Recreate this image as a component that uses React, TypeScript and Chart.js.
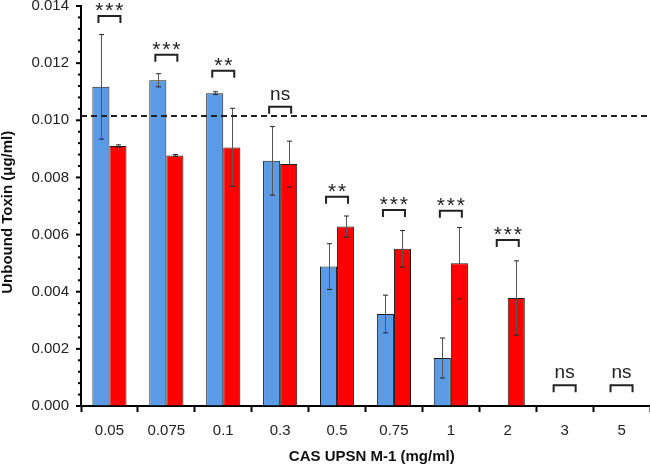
import React, { useEffect, useRef } from "react";
import { Chart, registerables } from "chart.js";

Chart.register(...registerables);

const categories = ["0.05", "0.075", "0.1", "0.3", "0.5", "0.75", "1", "2", "3", "5"];
const blueValues = [0.01117, 0.0114, 0.01095, 0.00858, 0.00488, 0.00322, 0.00168, 0, 0, 0];
const blueErrors = [0.00183, 0.00023, 0.00005, 0.0012, 0.0008, 0.00066, 0.0007, 0, 0, 0];
const redValues = [0.0091, 0.00877, 0.00905, 0.00847, 0.00628, 0.0055, 0.005, 0.00378, 0, 0];
const redErrors = [0.00004, 0.00003, 0.00137, 0.0008, 0.00037, 0.00064, 0.00125, 0.0013, 0, 0];
const bracketLevels = [0.01365, 0.01229, 0.01173, 0.01047, 0.00732, 0.00686, 0.00683, 0.00581, 0.00073, 0.00073];
const bracketLabels = ["***", "***", "**", "ns", "**", "***", "***", "***", "ns", "ns"];
const controlLevel = 0.01015;
const yMin = 0;
const yMax = 0.014;
const yMinorStep = 0.0004;
const yMajorStep = 0.002;

const FONT = "'Liberation Sans', Arial, Helvetica, sans-serif";

const isMajor = (v: number) => Math.abs(v / yMajorStep - Math.round(v / yMajorStep)) < 1e-6;

const errorBarPlugin = {
  id: "errorBars",
  afterDatasetsDraw(chart: any) {
    const ctx = chart.ctx;
    const y = chart.scales.y;
    const errs = [blueErrors, redErrors];
    ctx.save();
    chart.data.datasets.forEach((ds: any, di: number) => {
      const meta = chart.getDatasetMeta(di);
      meta.data.forEach((bar: any, i: number) => {
        const v = ds.data[i];
        const e = errs[di][i];
        if (!e) return;
        const x = Math.round(bar.x) + 0.5;
        const yt = y.getPixelForValue(v + e);
        const yb = y.getPixelForValue(v - e);
        ctx.strokeStyle = "#555";
        ctx.lineWidth = 1;
        ctx.beginPath();
        ctx.moveTo(x, yt);
        ctx.lineTo(x, yb);
        ctx.stroke();
        ctx.strokeStyle = "#222";
        ctx.beginPath();
        ctx.moveTo(x - 2.5, yt);
        ctx.lineTo(x + 2.5, yt);
        ctx.moveTo(x - 2.5, yb);
        ctx.lineTo(x + 2.5, yb);
        ctx.stroke();
      });
    });
    // control dashed line
    const ca = chart.chartArea;
    const yc = y.getPixelForValue(controlLevel);
    ctx.strokeStyle = "#222";
    ctx.lineWidth = 2;
    ctx.setLineDash([6, 4]);
    ctx.beginPath();
    ctx.moveTo(ca.left, yc);
    ctx.lineTo(ca.right, yc);
    ctx.stroke();
    ctx.setLineDash([]);
    ctx.restore();
  },
  afterDraw(chart: any) {
    const ctx = chart.ctx;
    const x = chart.scales.x;
    const y = chart.scales.y;
    ctx.save();
    // y minor/major ticks
    ctx.strokeStyle = "#000";
    ctx.lineWidth = 2;
    const axisX = chart.chartArea.left;
    y.ticks.forEach((t: any) => {
      const py = y.getPixelForValue(t.value);
      const len = isMajor(t.value) ? 5 : 3;
      ctx.beginPath();
      ctx.moveTo(axisX - len, py);
      ctx.lineTo(axisX, py);
      ctx.stroke();
    });
    // significance brackets
    bracketLabels.forEach((lab, i) => {
      const cx = x.getPixelForValue(i);
      const by = y.getPixelForValue(bracketLevels[i]);
      const hw = 11;
      ctx.strokeStyle = "#222";
      ctx.lineWidth = 2;
      ctx.beginPath();
      ctx.moveTo(cx - hw, by + 7);
      ctx.lineTo(cx - hw, by);
      ctx.lineTo(cx + hw, by);
      ctx.lineTo(cx + hw, by + 7);
      ctx.stroke();
      ctx.fillStyle = "#222";
      ctx.textAlign = "center";
      ctx.textBaseline = "alphabetic";
      if (lab === "ns") {
        ctx.font = `19px ${FONT}`;
        ctx.fillText(lab, cx, by - 7);
      } else {
        ctx.font = `21px ${FONT}`;
        const n = lab.length;
        for (let k = 0; k < n; k++) {
          ctx.fillText("*", cx + (k - (n - 1) / 2) * 10, by + 1);
        }
      }
    });
    ctx.restore();
  },
};

export default function App() {
  const ref = useRef<HTMLCanvasElement | null>(null);
  useEffect(() => {
    if (!ref.current) return;
    const chart = new Chart(ref.current, {
      type: "bar",
      data: {
        labels: categories,
        datasets: [
          {
            data: blueValues,
            backgroundColor: "#5B9BE6",
            borderColor: "#1a1a1a",
            borderWidth: (c: any) => (c.raw ? 1 : 0),
          },
          {
            data: redValues,
            backgroundColor: "#FF0000",
            borderColor: "#1a1a1a",
            borderWidth: (c: any) => (c.raw ? 1 : 0),
          },
        ],
      },
      options: {
        responsive: false,
        animation: false,
        maintainAspectRatio: false,
        layout: { padding: { top: 6, right: 0, left: 0, bottom: 0 } },
        datasets: { bar: { barPercentage: 1, categoryPercentage: 0.6 } },
        plugins: { legend: { display: false }, tooltip: { enabled: false } },
        scales: {
          x: {
            type: "category",
            offset: true,
            grid: {
              offset: true,
              drawOnChartArea: false,
              drawTicks: true,
              tickLength: 6,
              tickWidth: 2,
              tickColor: "#000",
            },
            border: { display: true, color: "#000", width: 2 },
            ticks: { color: "#222", font: { family: FONT, size: 15 }, padding: 10 },
            title: {
              display: true,
              text: "\u00a0\u00a0\u00a0CAS UPSN M-1 (mg/ml)",
              color: "#111",
              font: { family: FONT, size: 15, weight: "bold" },
              padding: { top: 0, bottom: 2 },
            },
            afterFit: (s: any) => {
              s.height = 62;
              s.paddingLeft = 0;
              s.paddingRight = 0;
            },
          },
          y: {
            min: yMin,
            max: yMax,
            grid: { drawOnChartArea: false, drawTicks: false },
            border: { display: true, color: "#000", width: 2 },
            ticks: {
              stepSize: yMinorStep,
              autoSkip: false,
              padding: 12,
              color: "#222",
              font: { family: FONT, size: 15 },
              callback: (v: any) => (isMajor(Number(v)) ? Number(v).toFixed(3) : ""),
            },
            title: {
              display: true,
              text: "Unbound Toxin (μg/ml)\u00a0\u00a0\u00a0",
              color: "#111",
              font: { family: FONT, size: 15, weight: "bold", lineHeight: 1 },
              padding: { top: 0, bottom: 0 },
            },
            afterFit: (s: any) => {
              s.width = 81;
              s.paddingTop = 0;
              s.paddingBottom = 0;
            },
          },
        },
      },
      plugins: [errorBarPlugin],
    } as any);
    return () => chart.destroy();
  }, []);
  return (
    <div style={{ position: "fixed", left: 0, top: 0, width: 650, height: 468, background: "#fff" }}>
      <canvas ref={ref} width={650} height={468} />
    </div>
  );
}
